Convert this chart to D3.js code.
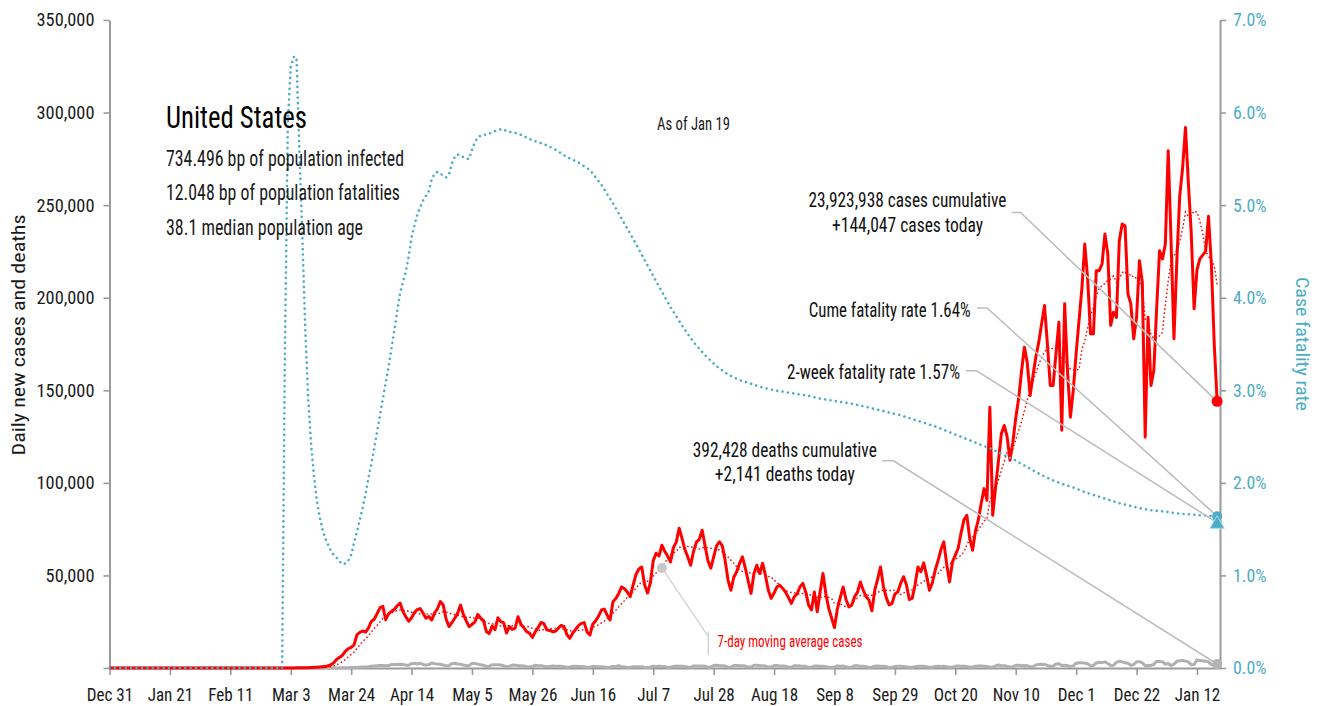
<!DOCTYPE html>
<html><head><meta charset="utf-8">
<script src="https://cdn.jsdelivr.net/npm/d3@7"></script>
<style>
html,body{margin:0;padding:0;background:#fff;}
svg{display:block;background:#fff;}
text{font-family:'Liberation Sans Narrow','Roboto Condensed','DejaVu Sans Condensed','Liberation Sans',Arial,sans-serif;}
</style></head><body>
<svg id="chart" width="1325" height="706"></svg>
<script>
// ---------------- DATA ----------------
const startDate = "2019-12-31";
// Daily new cases, one value per day from Dec 31 2019 to Jan 19 2021
const casesDaily = [
 0,
 0,0,0,0,0,0,0,0,0,0,0,0,0,0,0,0,0,0,0,0,0,0,0,0,0,0,0,0,0,0,0,
 0,0,0,0,0,0,0,0,0,0,0,0,0,0,0,0,0,0,0,0,0,0,0,0,0,0,0,0,0,
 20,20,25,30,70,70,120,110,180,290,270,420,550,700,750,1200,1800,2900,4700,5800,6900,9100,10400,11100,12500,17900,19200,20000,19400,21500,25100,
 26300,29300,32500,33300,26100,29200,30600,31600,33600,35100,30500,27600,25300,27100,30000,31600,32100,29600,26900,27800,25900,29800,32000,35900,34000,26500,22400,24500,26900,29500,
 34000,29000,25500,22300,23600,24800,28900,27000,25600,19600,18600,22600,20700,27100,25000,24500,18900,22300,20900,21600,27700,23700,21800,19600,18800,16500,19600,21900,24600,24000,20600,
 20300,19600,19800,21500,23000,22300,18000,16000,18800,20800,22900,24100,24500,19500,17800,23800,25500,28000,31300,31800,28500,25900,35800,37600,40300,43800,42800,41000,38500,44800,
 50500,53500,54500,45000,40500,46000,58000,62000,60500,66300,63000,60500,57300,65000,68000,75500,70000,64000,60000,55500,63000,68000,69500,74400,66000,58000,53900,60000,66000,68100,66000,
 58000,47500,42000,49000,52000,56500,60000,54000,47000,40300,51000,55500,51000,56600,50000,42000,37600,40500,43800,44700,43000,41000,38000,34900,38500,40000,43800,45700,41100,34000,31300,
 41100,30400,41000,51000,40000,32200,27000,21900,32000,38000,43800,37000,33000,34000,38500,41000,46500,42000,38500,36700,30900,42000,48000,54600,44000,38000,34000,34900,40000,41000,
 45700,49300,45000,37000,37600,45000,54600,52000,56800,50000,42000,46000,52800,58000,64000,68100,56000,46500,57300,61000,64700,73000,80000,82500,70000,63600,74000,80000,89000,96900,90600,
 140900,82500,98000,112000,126500,131000,125000,112200,122000,135000,145400,160000,173300,165000,147200,158000,168000,176000,186000,195800,175000,152600,152600,170000,186800,128400,196700,160000,135500,150000,
 170000,187700,205000,229000,210000,180500,180500,214600,214600,218200,234400,223600,185000,192200,189400,230800,239800,238900,202100,196700,177800,189400,220000,208300,124700,189400,152600,160700,195000,225400,220900,
 229000,279400,230000,177800,220000,255000,270000,292000,262000,235000,194000,215000,221000,223000,225000,244000,218000,175000,144047
];
// Daily new deaths, same days
const deathsDaily = [
 0,
 0,0,0,0,0,0,0,0,0,0,0,0,0,0,0,0,0,0,0,0,0,0,0,0,0,0,0,0,0,0,0,
 0,0,0,0,0,0,0,0,0,0,0,0,0,0,0,0,0,0,0,0,0,0,0,0,0,0,0,0,0,
 0,1,1,3,1,2,4,3,4,6,8,7,10,12,18,23,40,58,49,76,107,121,148,209,263,305,414,524,512,587,895,
 1100,1200,1300,1350,1200,1300,1950,1950,1900,2050,1850,1550,1550,2350,2550,2200,2550,1900,1550,1850,2700,2350,2100,2000,1600,1150,1400,2350,2550,2150,
 2000,1600,1200,1300,2400,2500,2100,1700,1500,800,1000,1700,1700,1800,1600,1200,850,950,1600,1550,1250,1250,1050,650,550,750,1500,1200,1200,950,650,
 750,1100,1000,1000,900,700,400,600,950,950,850,800,700,350,400,800,750,700,650,600,300,400,850,750,1300,650,500,300,350,650,
 700,700,650,250,250,400,1000,850,900,750,750,450,400,900,950,950,900,850,450,400,1100,1100,1100,1100,950,450,550,1300,1450,1300,1250,
 1050,450,550,1300,1300,1250,1250,1050,500,550,1450,1450,1200,1250,1050,550,500,1300,1350,1100,1100,1000,400,450,1200,1150,1100,1000,900,350,450,
 1050,1050,950,1000,700,400,300,450,1150,900,1050,750,350,450,1250,1200,900,900,700,300,400,1000,1100,950,900,750,300,350,800,950,
 900,850,650,350,400,700,950,950,900,650,400,400,800,1000,850,900,700,400,450,950,1150,1000,950,850,450,500,1000,1050,1050,1000,850,
 450,550,1150,1600,1200,1250,1000,500,750,1450,1450,1200,1400,1250,650,800,1650,1950,2050,1950,1450,900,950,2200,2300,1300,1450,1250,850,1150,
 2600,2800,2900,2600,2300,1150,1400,2700,3100,2900,3300,2400,1400,1500,3000,3600,3300,2800,2600,1400,1900,3400,3400,2800,1200,1400,1400,1900,3700,3500,3400,
 2000,2400,1400,2000,3700,3900,4100,3700,3300,1800,1900,4400,4000,3900,3700,3300,1800,1400,2141
];
// Cumulative case fatality rate (%)
const cfrDates = [
 "2019-12-31","2020-02-29",
 "2020-03-01","2020-03-02","2020-03-03","2020-03-04","2020-03-05","2020-03-06","2020-03-07","2020-03-08","2020-03-09","2020-03-10",
 "2020-03-11","2020-03-12","2020-03-13","2020-03-14","2020-03-15","2020-03-16","2020-03-17","2020-03-18","2020-03-19","2020-03-20",
 "2020-03-21","2020-03-22","2020-03-23","2020-03-24","2020-03-25","2020-03-26","2020-03-27","2020-03-28","2020-03-29","2020-03-30","2020-03-31",
 "2020-04-01","2020-04-02","2020-04-03","2020-04-04","2020-04-05","2020-04-06","2020-04-07","2020-04-08","2020-04-09","2020-04-10",
 "2020-04-11","2020-04-12","2020-04-13","2020-04-14","2020-04-15","2020-04-16","2020-04-17","2020-04-18","2020-04-19","2020-04-20",
 "2020-04-21","2020-04-22","2020-04-23","2020-04-24","2020-04-25","2020-04-26","2020-04-27","2020-04-28","2020-04-29","2020-04-30",
 "2020-05-01","2020-05-02","2020-05-03","2020-05-04","2020-05-05","2020-05-06","2020-05-07","2020-05-08","2020-05-09","2020-05-10",
 "2020-05-11","2020-05-12","2020-05-13","2020-05-14","2020-05-15","2020-05-16","2020-05-17","2020-05-18","2020-05-19","2020-05-20",
 "2020-05-21","2020-05-22","2020-05-26","2020-05-30","2020-06-03","2020-06-07","2020-06-11","2020-06-15","2020-06-19","2020-06-23",
 "2020-06-27","2020-07-01","2020-07-05","2020-07-09","2020-07-13","2020-07-17","2020-07-21","2020-07-25","2020-07-29","2020-08-02",
 "2020-08-06","2020-08-10","2020-08-14","2020-08-18","2020-08-22","2020-08-26","2020-08-30","2020-09-03","2020-09-07","2020-09-11",
 "2020-09-15","2020-09-19","2020-09-23","2020-09-27","2020-10-01","2020-10-05","2020-10-09","2020-10-13","2020-10-17","2020-10-21",
 "2020-10-25","2020-10-29","2020-11-02","2020-11-06","2020-11-10","2020-11-14","2020-11-18","2020-11-22","2020-11-26","2020-11-30",
 "2020-12-04","2020-12-08","2020-12-12","2020-12-16","2020-12-20","2020-12-24","2020-12-28","2021-01-01","2021-01-05","2021-01-09",
 "2021-01-13","2021-01-19"
];
const cfrValues = [
 0,0,
 3.5,5.9,6.5,6.6,6.6,5.6,4.7,3.7,2.95,2.45,
 2.1,1.82,1.64,1.5,1.4,1.33,1.26,1.22,1.19,1.15,
 1.12,1.13,1.16,1.22,1.35,1.47,1.6,1.73,1.88,2.05,2.2,
 2.37,2.55,2.73,2.9,3.08,3.25,3.45,3.65,3.85,4.05,
 4.17,4.28,4.45,4.65,4.78,4.9,4.98,5.05,5.1,5.15,
 5.28,5.34,5.36,5.34,5.32,5.3,5.33,5.45,5.52,5.55,
 5.53,5.52,5.5,5.5,5.6,5.68,5.73,5.75,5.76,5.76,
 5.77,5.79,5.8,5.81,5.82,5.82,5.8,5.79,5.79,5.78,
 5.77,5.76,5.70,5.66,5.60,5.52,5.46,5.38,5.22,5.02,
 4.80,4.58,4.35,4.12,3.90,3.70,3.52,3.38,3.26,3.17,
 3.11,3.07,3.03,3.00,2.98,2.96,2.94,2.91,2.89,2.87,
 2.85,2.82,2.79,2.76,2.73,2.69,2.65,2.61,2.56,2.51,
 2.46,2.41,2.36,2.30,2.24,2.17,2.10,2.04,1.99,1.95,
 1.90,1.86,1.82,1.78,1.75,1.72,1.70,1.69,1.67,1.66,
 1.65,1.64
];
const xTickDates = ["2019-12-31","2020-01-21","2020-02-11","2020-03-03","2020-03-24","2020-04-14","2020-05-05","2020-05-26","2020-06-16","2020-07-07","2020-07-28","2020-08-18","2020-09-08","2020-09-29","2020-10-20","2020-11-10","2020-12-01","2020-12-22","2021-01-12"];
const xTickLabels = ["Dec 31","Jan 21","Feb 11","Mar 3","Mar 24","Apr 14","May 5","May 26","Jun 16","Jul 7","Jul 28","Aug 18","Sep 8","Sep 29","Oct 20","Nov 10","Dec 1","Dec 22","Jan 12"];
const yLeftTicks = [0,50000,100000,150000,200000,250000,300000,350000];
const yLeftTickLabels = ["","50,000","100,000","150,000","200,000","250,000","300,000","350,000"];
const yRightTicks = [0,1,2,3,4,5,6,7];
const yRightTickLabels = ["0.0%","1.0%","2.0%","3.0%","4.0%","5.0%","6.0%","7.0%"];
const countryName = "United States";
const infoLines = ["734.496 bp of population infected","12.048 bp of population fatalities","38.1 median population age"];
const asOfLabel = "As of Jan 19";
const casesCumulative = 23923938, casesToday = 144047;
const deathsCumulative = 392428, deathsToday = 2141;
const cumeFatalityRate = 1.64, twoWeekFatalityRate = 1.57;
const maNoteDate = "2020-07-10";
const maLabel = "7-day moving average cases";

// ---------------- CHART ----------------
const svg = d3.select("#chart");
const parse = d3.utcParse("%Y-%m-%d");
const t0 = parse(startDate);
const dates = casesDaily.map((_, i) => d3.utcDay.offset(t0, i));
const lastDate = dates[dates.length - 1];
const RED = "#ff0000", BLUE = "#4bacc6", GRAY = "#b0b0b0", AX = "#9a9a9a", LEAD = "#bdbdbd";

const x = d3.scaleUtc().domain([t0, parse("2021-01-20")]).range([109.5, 1220]);
const yL = d3.scaleLinear().domain([0, 350000]).range([668, 20]);
const yR = d3.scaleLinear().domain([0, 7]).range([668, 20]);

function fit(sel, w) { sel.attr("textLength", w).attr("lengthAdjust", "spacingAndGlyphs"); return sel; }

// axes
const gx = svg.append("g").attr("transform", "translate(0,668)")
  .call(d3.axisBottom(x).tickValues(xTickDates.map(parse)).tickFormat((d, i) => xTickLabels[i]).tickSize(7).tickSizeOuter(0));
const gl = svg.append("g").attr("transform", "translate(109.5,0)")
  .call(d3.axisLeft(yL).tickValues(yLeftTicks).tickFormat((d, i) => yLeftTickLabels[i]).tickSize(6).tickPadding(9).tickSizeOuter(0));
const gr = svg.append("g").attr("transform", "translate(1220,0)")
  .call(d3.axisRight(yR).tickValues(yRightTicks).tickFormat((d, i) => yRightTickLabels[i]).tickSize(6).tickPadding(7).tickSizeOuter(0));
[gx, gl, gr].forEach(g => {
  g.attr("font-family", null).attr("font-size", null);
  g.select(".domain").attr("stroke", AX).attr("stroke-width", 2);
  g.selectAll(".tick line").attr("stroke", AX).attr("stroke-width", 1.6);
  g.selectAll(".tick text").style("font-size", "18.5px");
});
gx.selectAll(".tick text").attr("y", 33).attr("dy", 0).attr("fill", "#1a1a1a");
gl.selectAll(".tick text").attr("fill", "#1a1a1a");
gr.selectAll(".tick text").attr("fill", BLUE);

function probeLen(s, size) {
  const p = svg.append("text").style("font-size", size).text(s);
  const L = p.node().getComputedTextLength(); p.remove(); return L;
}
const kX = 46.5 / probeLen("Dec 31", "18.5px");
const kY = 58 / probeLen("350,000", "18.5px");
const kR = 33.5 / probeLen("1.0%", "18.5px");
[[gx, kX], [gl, kY], [gr, kR]].forEach(([g, k]) => {
  g.selectAll(".tick text").each(function () {
    const L = this.getComputedTextLength();
    if (L > 0) fit(d3.select(this), L * k);
  });
});

// axis titles
fit(svg.append("text").attr("transform", "translate(25,335) rotate(-90)").attr("text-anchor", "middle")
  .style("font-size", "18.5px").attr("fill", "#1a1a1a").text("Daily new cases and deaths"), 241);
fit(svg.append("text").attr("transform", "translate(1296,344) rotate(90)").attr("text-anchor", "middle")
  .style("font-size", "19px").attr("fill", BLUE).text("Case fatality rate"), 134);

// series
const casesPts = dates.map((d, i) => [d, casesDaily[i]]);
const deathsPts = dates.map((d, i) => [d, deathsDaily[i]]);
const maPts = dates.map((d, i) => [d, d3.mean(casesDaily.slice(Math.max(0, i - 6), i + 1))]);
const cfrPts = cfrDates.map((s, i) => [parse(s), cfrValues[i]]);
const lineL = d3.line().x(d => x(d[0])).y(d => yL(d[1]));
const lineR = d3.line().x(d => x(d[0])).y(d => yR(d[1]));

svg.append("path").datum(deathsPts).attr("d", lineL).attr("fill", "none")
  .attr("stroke", GRAY).attr("stroke-width", 3).attr("stroke-linejoin", "round");
svg.append("path").datum(maPts).attr("d", lineL).attr("fill", "none")
  .attr("stroke", RED).attr("stroke-width", 1.4).attr("stroke-dasharray", "1.6,2.4");
svg.append("path").datum(casesPts).attr("d", lineL).attr("fill", "none")
  .attr("stroke", RED).attr("stroke-width", 3).attr("stroke-linejoin", "round");
svg.append("path").datum(cfrPts).attr("d", lineR).attr("fill", "none")
  .attr("stroke", BLUE).attr("stroke-width", 2.6).attr("stroke-linecap", "round").attr("stroke-dasharray", "0.01,5.4");

// end markers
const ex = x(lastDate);
const pCases = [ex, yL(casesToday)];
const pCume = [ex, yR(cumeFatalityRate)];
const pTwo = [ex, yR(twoWeekFatalityRate)];
const pDeaths = [ex, yL(deathsToday)];

// title block
fit(svg.append("text").attr("x", 166).attr("y", 128).style("font-size", "32px").attr("fill", "#000").text(countryName), 141);
const infoWidths = [238, 234, 197], infoY = [165.5, 200, 234.5];
infoLines.forEach((s, i) => fit(svg.append("text").attr("x", 166).attr("y", infoY[i]).style("font-size", "22.5px").attr("fill", "#1a1a1a").text(s), infoWidths[i]));
fit(svg.append("text").attr("x", 657).attr("y", 129.5).style("font-size", "18.5px").attr("fill", "#1a1a1a").text(asOfLabel), 73);

// annotations
const fmt = d3.format(",");
function note(lines, anchor, ax, ys, widths, lead, target) {
  lines.forEach((s, i) => fit(svg.append("text").attr("x", ax).attr("y", ys[i]).attr("text-anchor", anchor)
    .style("font-size", "20px").attr("fill", "#111").text(s), widths[i]));
  svg.append("polyline").attr("points", [lead[0], lead[1], target].map(p => p.join(",")).join(" "))
    .attr("fill", "none").attr("stroke", LEAD).attr("stroke-width", 1.6);
}
note([fmt(casesCumulative) + " cases cumulative", "+" + fmt(casesToday) + " cases today"], "middle", 907.5,
  [207, 231.5], [198, 151], [[1012, 212.5], [1020.5, 212.5]], pCases);
note(["Cume fatality rate " + cumeFatalityRate.toFixed(2) + "%"], "end", 970.7, [316.5], [162], [[977, 308], [987, 308]], pCume);
note(["2-week fatality rate " + twoWeekFatalityRate.toFixed(2) + "%"], "end", 960, [378.5], [173], [[966, 370.7], [976.5, 370.7]], pTwo);
note([fmt(deathsCumulative) + " deaths cumulative", "+" + fmt(deathsToday) + " deaths today"], "middle", 784.8,
  [456.5, 480.5], [184, 140], [[882, 460.7], [893.5, 460.7]], pDeaths);

// 7-day MA annotation
const maIdx = dates.findIndex(d => +d === +parse(maNoteDate));
const maP = [x(maPts[maIdx][0]), yL(maPts[maIdx][1])];
svg.append("polyline").attr("points", [maP, [708.3, 636.5]].map(p => p.join(",")).join(" "))
  .attr("fill", "none").attr("stroke", "#cfcfcf").attr("stroke-width", 1.3);
svg.append("line").attr("x1", 708.3).attr("x2", 708.3).attr("y1", 631.5).attr("y2", 655)
  .attr("stroke", "#cfcfcf").attr("stroke-width", 1.3);
svg.append("circle").attr("cx", maP[0]).attr("cy", maP[1]).attr("r", 5).attr("fill", "#c8c8c8");
fit(svg.append("text").attr("x", 717.5).attr("y", 646.5).style("font-size", "16px").attr("fill", RED).text(maLabel), 145);

// markers on top
svg.append("circle").attr("cx", pDeaths[0]).attr("cy", pDeaths[1]).attr("r", 5).attr("fill", "#b4b4b4");
svg.append("circle").attr("cx", pCases[0]).attr("cy", pCases[1]).attr("r", 5.5).attr("fill", RED);
svg.append("circle").attr("cx", pCume[0]).attr("cy", pCume[1]).attr("r", 5).attr("fill", BLUE);
svg.append("path").attr("d", d3.symbol(d3.symbolTriangle, 90)()).attr("transform", `translate(${pTwo[0]},${pTwo[1] + 1.5})`)
  .attr("fill", BLUE).attr("stroke", "#a6dbe9").attr("stroke-width", 1);
</script>
</body></html>
